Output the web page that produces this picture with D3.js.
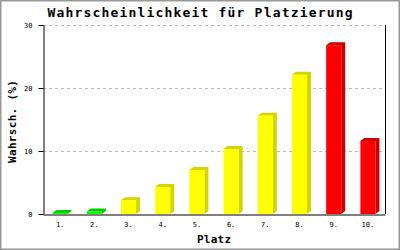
<!DOCTYPE html>
<html>
<head>
<meta charset="utf-8">
<script src="https://cdn.jsdelivr.net/npm/d3@7"></script>
<style>
    body { margin: 0; background: #fff; }
    svg { display: block; }
</style>
</head>
<body>
<div id="chart"></div>
<script>
// Daten
const places = ["1.", "2.", "3.", "4.", "5.", "6.", "7.", "8.", "9.", "10."];
const probabilities = [0.15, 0.4, 2.2, 4.3, 7.0, 10.3, 15.6, 22.1, 26.8, 11.6];
const frontColors = ["#00ff00", "#00ff00", "#ffff00", "#ffff00", "#ffff00", "#ffff00", "#ffff00", "#ffff00", "#ff0000", "#ff0000"];
const sideColors = ["#00cc00", "#00cc00", "#d4d400", "#d4d400", "#d4d400", "#d4d400", "#d4d400", "#d4d400", "#cc0000", "#cc0000"];
const yTicks = [0, 10, 20, 30];

const width = 400, height = 250;
const margin = { top: 25, right: 15, bottom: 36, left: 43 };
const mono = "'DejaVu Sans Mono', 'Liberation Mono', monospace";

const svg = d3.select("#chart").append("svg")
    .attr("width", width)
    .attr("height", height)
    .style("font-family", mono);

// Rahmen
svg.append("rect")
    .attr("x", 0.5).attr("y", 0.5)
    .attr("width", width - 1).attr("height", height - 1)
    .attr("fill", "#fff")
    .attr("stroke", "#999")
    .attr("stroke-width", 2);

const x = d3.scaleBand()
    .domain(places)
    .range([margin.left, width - margin.right])
    .paddingInner(0.56)
    .paddingOuter(0.28);

const y = d3.scaleLinear()
    .domain([0, 30])
    .range([height - margin.bottom, margin.top]);

// Gitterlinien
svg.append("g")
    .selectAll("line")
    .data(yTicks.filter(d => d > 0))
    .join("line")
    .attr("x1", margin.left)
    .attr("x2", width - margin.right)
    .attr("y1", d => Math.round(y(d)) + 0.5)
    .attr("y2", d => Math.round(y(d)) + 0.5)
    .attr("stroke", "#bbb")
    .attr("stroke-dasharray", "3,3");

// Balken mit 3D-Effekt
const dx = 4, dy = 3;
const bars = svg.append("g")
    .selectAll("g")
    .data(places.map((p, i) => ({ p, v: probabilities[i], i })))
    .join("g");

bars.append("path")
    .attr("fill", d => sideColors[d.i])
    .attr("d", d => {
        const x0 = x(d.p), w = x.bandwidth(), yt = y(d.v), yb = y(0);
        return `M${x0},${yt} L${x0 + dx},${yt - dy} L${x0 + w + dx},${yt - dy} L${x0 + w + dx},${yb - dy} L${x0 + w},${yb} L${x0 + w},${yt} Z`;
    });

bars.append("rect")
    .attr("x", d => x(d.p))
    .attr("y", d => y(d.v))
    .attr("width", x.bandwidth())
    .attr("height", d => y(0) - y(d.v))
    .attr("fill", d => frontColors[d.i]);

// Achsen
const yAxis = svg.append("g")
    .attr("transform", `translate(${margin.left + 0.5},0)`)
    .call(d3.axisLeft(y).tickValues(yTicks).tickSize(5).tickSizeOuter(0).tickPadding(6));
yAxis.select(".domain").attr("stroke", "#000");
yAxis.selectAll(".tick line").attr("stroke", "#000");
yAxis.selectAll(".tick text")
    .style("font-family", mono)
    .style("font-size", "7px")
    .attr("fill", "#000");

const xAxis = svg.append("g")
    .attr("transform", `translate(0,${y(0) + 0.5})`)
    .call(d3.axisBottom(x).tickSize(0).tickPadding(8));
xAxis.select(".domain").attr("stroke", "#000");
xAxis.selectAll(".tick text")
    .style("font-family", mono)
    .style("font-size", "7px")
    .attr("fill", "#000");

svg.append("line")
    .attr("x1", width - margin.right + 0.5)
    .attr("x2", width - margin.right + 0.5)
    .attr("y1", margin.top)
    .attr("y2", y(0))
    .attr("stroke", "#000");

// Titel und Achsenbeschriftungen
svg.append("text")
    .attr("x", 200)
    .attr("y", 17)
    .attr("text-anchor", "middle")
    .attr("textLength", 305)
    .attr("lengthAdjust", "spacing")
    .style("font-size", "13px")
    .style("font-weight", "bold")
    .text("Wahrscheinlichkeit für Platzierung");

svg.append("text")
    .attr("transform", "translate(16,121.5) rotate(-90)")
    .attr("text-anchor", "middle")
    .attr("textLength", 83)
    .attr("lengthAdjust", "spacing")
    .style("font-size", "11px")
    .style("font-weight", "bold")
    .text("Wahrsch. (%)");

svg.append("text")
    .attr("x", (margin.left + width - margin.right) / 2)
    .attr("y", 243)
    .attr("text-anchor", "middle")
    .attr("textLength", 34)
    .attr("lengthAdjust", "spacing")
    .style("font-size", "11px")
    .style("font-weight", "bold")
    .text("Platz");
</script>
</body>
</html>
